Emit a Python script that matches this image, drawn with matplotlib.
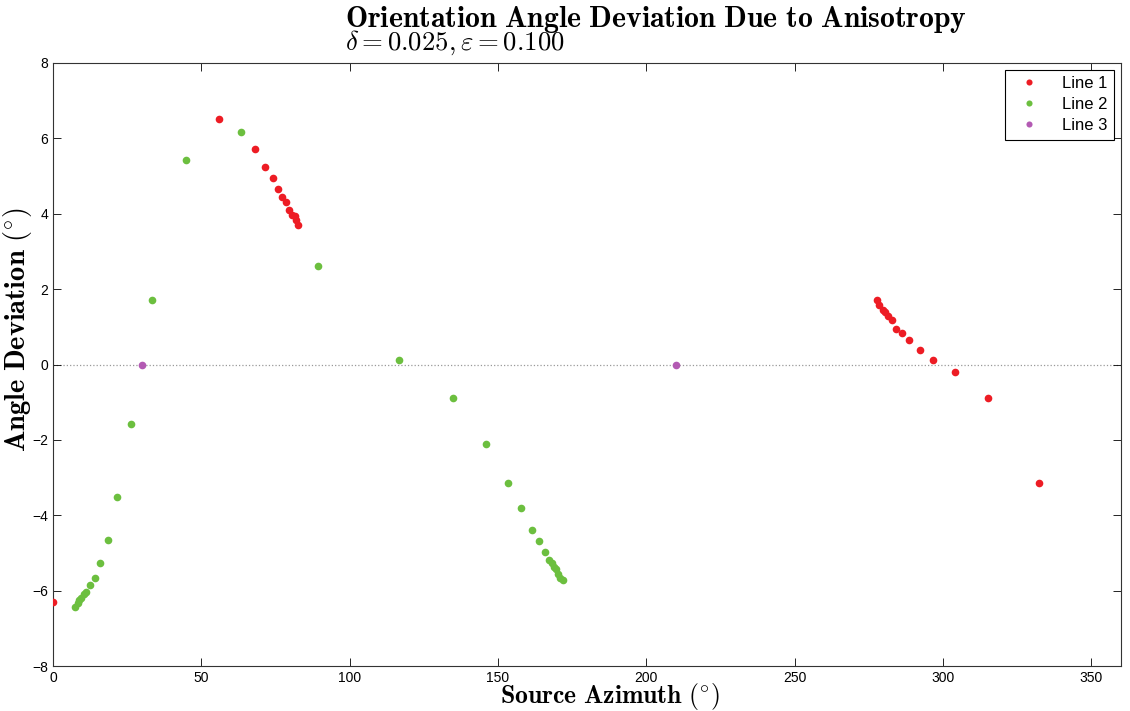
import matplotlib
matplotlib.use('Agg')
import matplotlib.pyplot as plt
import numpy as np

plt.rcParams['mathtext.fontset'] = 'cm'
plt.rcParams['font.family'] = ['Liberation Sans', 'DejaVu Sans']

# Line 1 (red)
az1 = [0.0, 55.9, 68.0, 71.6, 74.0, 76.0, 77.3, 78.6, 79.6, 80.6, 81.5, 81.8, 82.5,
       277.6, 278.5, 279.7, 280.6, 281.5, 282.8, 284.2, 286.1, 288.6, 292.1, 296.6,
       303.9, 315.1, 332.3]
dev1 = [-6.30, 6.51, 5.72, 5.25, 4.95, 4.65, 4.44, 4.32, 4.11, 3.97, 3.94, 3.83, 3.70,
        1.72, 1.57, 1.44, 1.38, 1.29, 1.18, 0.95, 0.84, 0.66, 0.39, 0.13,
        -0.19, -0.90, -3.14]

# Line 2 (green)
az2 = [7.5, 8.3, 8.8, 9.6, 10.4, 11.2, 12.4, 14.0, 15.8, 18.4, 21.5, 26.2, 33.3,
       44.7, 63.3, 89.4, 116.5, 134.8, 145.8, 153.3, 157.9, 161.3, 163.8, 165.8,
       167.2, 168.1, 168.8, 169.6, 170.2, 170.9, 172.0]
dev2 = [-6.44, -6.32, -6.26, -6.19, -6.10, -6.03, -5.85, -5.66, -5.27, -4.65, -3.51,
        -1.57, 1.70, 5.43, 6.18, 2.61, 0.13, -0.90, -2.10, -3.15, -3.81, -4.38,
        -4.67, -4.97, -5.19, -5.28, -5.36, -5.43, -5.57, -5.66, -5.73]

# Line 3 (purple)
az3 = [30.0, 210.0]
dev3 = [0.0, 0.0]

fig = plt.figure(figsize=(11.3, 7.11), dpi=100)
ax = fig.add_axes([53/1130, 1-666/711, (1121-53)/1130, (666-63)/711])

ax.axhline(0, color='#999999', linestyle=':', linewidth=0.9, zorder=1)
ax.plot(az1, dev1, 'o', color='#ed1c24', markersize=5.5, markeredgewidth=0, label='Line 1', zorder=3)
ax.plot(az2, dev2, 'o', color='#6cbf3f', markersize=5.5, markeredgewidth=0, label='Line 2', zorder=3)
ax.plot(az3, dev3, 'o', color='#b35ab3', markersize=5.5, markeredgewidth=0, label='Line 3', zorder=3)

ax.set_xlim(0, 360)
ax.set_ylim(-8, 8)
ax.set_xticks(np.arange(0, 351, 50))
ax.set_yticks(np.arange(-8, 9, 2))
ax.tick_params(direction='in', top=True, right=True, labelsize=10, length=6, width=0.6)
for s in ax.spines.values():
    s.set_linewidth(0.8)
    s.set_color('#333333')

ax.set_xlabel(r'$\mathbf{Source\ Azimuth}\ (^{\circ})$', fontsize=18.5, va='center')
ax.xaxis.set_label_coords(0.5215, -0.05)
ax.set_ylabel(r'$\mathbf{Angle\ Deviation}\ (^{\circ})$', fontsize=20.5, va='center')
ax.yaxis.set_label_coords(-0.0335, 0.557)

fig.text(345/1130, 1-27/711, r'$\mathbf{Orientation\ Angle\ Deviation\ Due\ to\ Anisotropy}$',
         fontsize=21.4, ha='left', va='baseline')
fig.text(345/1130, 1-50/711, r'$\delta = 0.025, \varepsilon = 0.100$',
         fontsize=19.3, ha='left', va='baseline')

leg = ax.legend(loc='upper right', numpoints=1, fontsize=12, fancybox=False,
                edgecolor='black', framealpha=1, borderaxespad=0.4,
                handletextpad=1.0, labelspacing=0.35, markerscale=0.8)
leg.get_frame().set_linewidth(0.8)

fig.savefig('out.png', dpi=100)
